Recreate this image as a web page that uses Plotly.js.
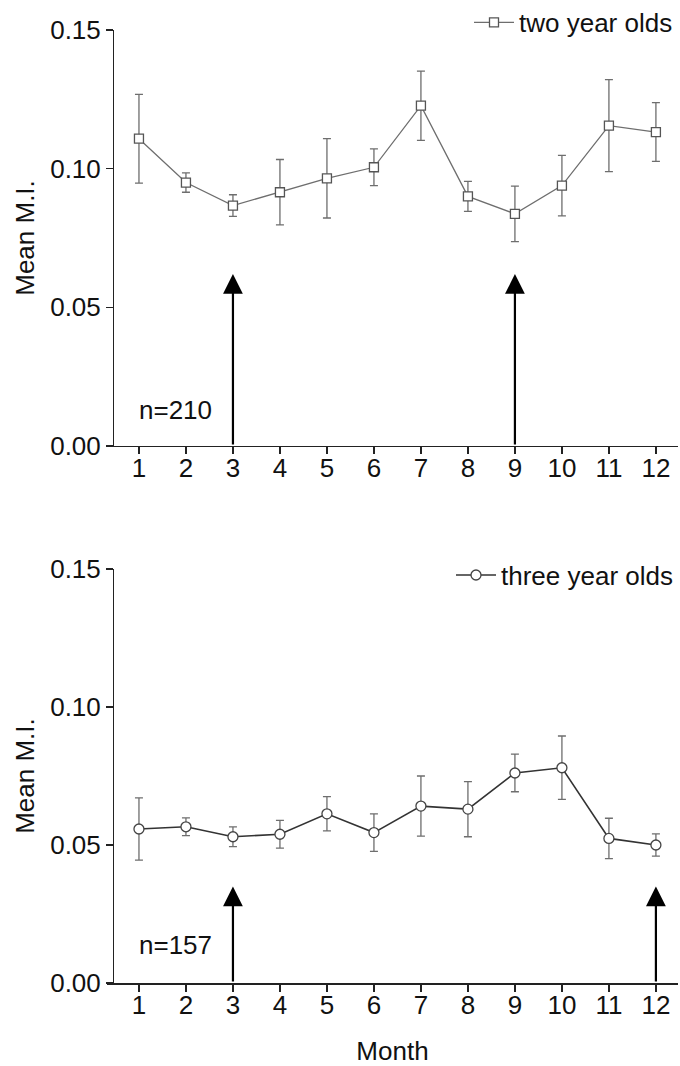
<!DOCTYPE html>
<html>
<head>
<meta charset="utf-8">
<script src="https://cdn.plot.ly/plotly-3.0.1.min.js"></script>
<style>
  html, body { margin: 0; padding: 0; background: #ffffff; }
  #chart { width: 680px; height: 1066px; }
</style>
</head>
<body>
<div id="chart"></div>
<script>
// Monthly mean M.I. with standard errors for two age groups
const months = [1, 2, 3, 4, 5, 6, 7, 8, 9, 10, 11, 12];
const monthLabels = ['1', '2', '3', '4', '5', '6', '7', '8', '9', '10', '11', '12'];

const twoYearMean = [0.1108, 0.0950, 0.0867, 0.0915, 0.0965, 0.1005, 0.1227, 0.0900, 0.0837, 0.0939, 0.1155, 0.1132];
const twoYearErr  = [0.0160, 0.0035, 0.0039, 0.0118, 0.0143, 0.0066, 0.0125, 0.0054, 0.0100, 0.0109, 0.0166, 0.0106];

const threeYearMean = [0.0558, 0.0566, 0.0530, 0.0539, 0.0613, 0.0545, 0.0641, 0.0630, 0.0761, 0.0780, 0.0524, 0.0500];
const threeYearErr  = [0.0113, 0.0032, 0.0036, 0.0050, 0.0062, 0.0068, 0.0109, 0.0100, 0.0068, 0.0115, 0.0073, 0.0040];

// Months marked with arrows in each panel
const twoYearArrows = [3, 9];
const threeYearArrows = [3, 12];

const sampleSizes = ['n=210', 'n=157'];
const seriesNames = ['two year olds', 'three year olds'];
const yTicks = [0, 0.05, 0.10, 0.15];
const yTickText = ['0.00', '0.05', '0.10', '0.15'];

const FONT = 'Liberation Sans, Arial, Helvetica, sans-serif';
const FS = 26;

const traces = [
  {
    x: months, y: twoYearMean, type: 'scatter', mode: 'lines+markers',
    name: seriesNames[0], xaxis: 'x', yaxis: 'y', legend: 'legend',
    line: { color: '#6e6e6e', width: 1.3 },
    marker: { symbol: 'square', size: 9, color: '#ffffff', line: { color: '#555555', width: 1.3 } },
    error_y: { type: 'data', array: twoYearErr, visible: true, color: '#6e6e6e', thickness: 1.3, width: 4 }
  },
  {
    x: months, y: threeYearMean, type: 'scatter', mode: 'lines+markers',
    name: seriesNames[1], xaxis: 'x2', yaxis: 'y2', legend: 'legend2',
    line: { color: '#333333', width: 1.6 },
    marker: { symbol: 'circle', size: 10, color: '#ffffff', line: { color: '#444444', width: 1.3 } },
    error_y: { type: 'data', array: threeYearErr, visible: true, color: '#6e6e6e', thickness: 1.3, width: 4 }
  }
];

function arrowAnn(m, tip, xa, ya) {
  return {
    x: m, y: tip, ax: m, ay: 0, xref: xa, yref: ya, axref: xa, ayref: ya,
    showarrow: true, arrowhead: 2, arrowsize: 1.8, arrowwidth: 2.2, arrowcolor: '#000000', text: ''
  };
}

const annotations = [];
twoYearArrows.forEach(m => annotations.push(arrowAnn(m, 0.062, 'x', 'y')));
threeYearArrows.forEach(m => annotations.push(arrowAnn(m, 0.035, 'x2', 'y2')));
annotations.push({ x: 0.96, y: 0.013, xref: 'x', yref: 'y', xanchor: 'left', yanchor: 'middle',
  text: sampleSizes[0], showarrow: false, font: { family: FONT, size: FS, color: '#111111' } });
annotations.push({ x: 0.96, y: 0.0138, xref: 'x2', yref: 'y2', xanchor: 'left', yanchor: 'middle',
  text: sampleSizes[1], showarrow: false, font: { family: FONT, size: FS, color: '#111111' } });

const xRange = [0.32, 12.47];
const yLinePos = 0.0105;

function xAxis(anchor, title) {
  return {
    anchor: anchor, range: xRange, tickvals: months, ticktext: monthLabels,
    showline: true, linecolor: '#222222', linewidth: 1.5, ticks: 'outside', ticklen: 7, tickwidth: 1.5,
    tickcolor: '#222222', showgrid: false, zeroline: false, ticklabelstandoff: -9,
    tickfont: { family: FONT, size: FS, color: '#111111' },
    title: title ? { text: title, font: { family: FONT, size: FS, color: '#111111' }, standoff: 24 } : undefined
  };
}
function yAxis(domain) {
  return {
    domain: domain, anchor: 'free', position: yLinePos, range: [0, 0.15],
    tickvals: yTicks, ticktext: yTickText,
    showline: true, linecolor: '#222222', linewidth: 1.5, ticks: 'outside', ticklen: 7, tickwidth: 1.5,
    tickcolor: '#222222', showgrid: false, zeroline: false,
    tickfont: { family: FONT, size: FS, color: '#111111' },
    title: { text: 'Mean M.I.', font: { family: FONT, size: FS, color: '#111111' }, standoff: 6 }
  };
}

const legendBase = {
  x: 1, xanchor: 'right', yanchor: 'middle', bgcolor: 'rgba(0,0,0,0)',
  font: { family: FONT, size: FS, color: '#111111' }, itemwidth: 40
};

const layout = {
  width: 680, height: 1066,
  margin: { l: 107, r: 2, t: 30, b: 83, autoexpand: false },
  paper_bgcolor: '#ffffff', plot_bgcolor: '#ffffff',
  showlegend: true,
  xaxis: xAxis('y', null),
  yaxis: yAxis([0.5635, 1]),
  xaxis2: xAxis('y2', 'Month'),
  yaxis2: yAxis([0, 0.4344]),
  legend: Object.assign({}, legendBase, { y: 1.008 }),
  legend2: Object.assign({}, legendBase, { y: 0.428 }),
  annotations: annotations
};

Plotly.newPlot('chart', traces, layout, { staticPlot: true, displayModeBar: false });
</script>
</body>
</html>
